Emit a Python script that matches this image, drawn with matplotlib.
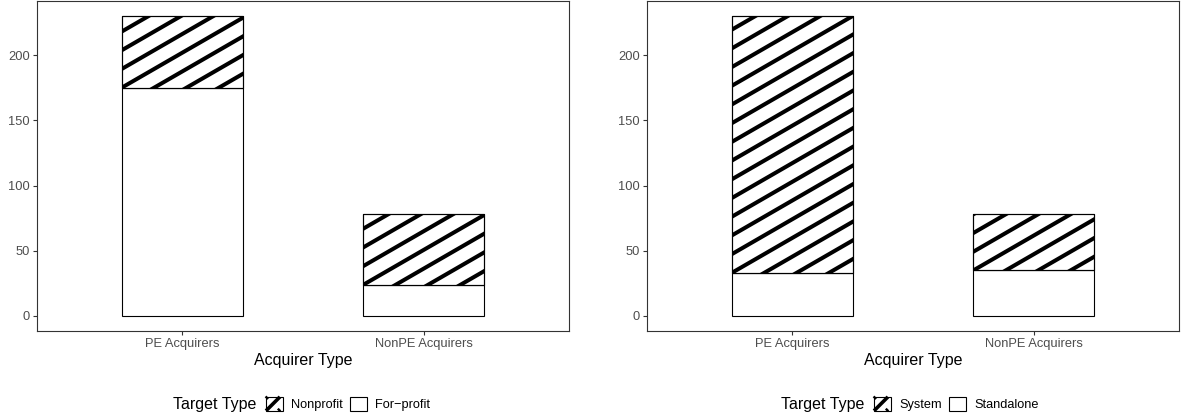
import numpy as np
import matplotlib
matplotlib.use("Agg")
import matplotlib.pyplot as plt
from matplotlib.patches import Patch, Rectangle
from matplotlib.lines import Line2D
from matplotlib.transforms import IdentityTransform
from matplotlib.legend_handler import HandlerPatch

plt.rcParams['font.family'] = ['Liberation Sans', 'DejaVu Sans']

# data
acquirers = ['PE Acquirers', 'NonPE Acquirers']
forprofit = [175, 24]
nonprofit = [55, 54]
standalone = [33, 35]
system = [197, 43]
yticks = [0, 50, 100, 150, 200]

W, H = 1182, 416
fig = plt.figure(figsize=(W / 100, H / 100), dpi=100)

GREY20 = '#333333'
GREY30 = '#4D4D4D'


def stripe(ax, patch, spacing=16.2, angle=30, lw=2.9):
    # diagonal stripes drawn in pixel space and clipped to the bar
    x0, y0 = ax.transData.transform((patch.get_x(), patch.get_y()))
    x1, y1 = ax.transData.transform((patch.get_x() + patch.get_width(),
                                     patch.get_y() + patch.get_height()))
    a = np.deg2rad(angle)
    d = np.array([np.cos(a), np.sin(a)])
    n = np.array([-np.sin(a), np.cos(a)])
    corners = np.array([[x0, y0], [x1, y0], [x0, y1], [x1, y1]])
    proj = (corners - [x0, y0]) @ n
    L = np.hypot(x1 - x0, y1 - y0) + 10
    for c in np.arange(np.floor(proj.min() / spacing) * spacing,
                       proj.max() + spacing, spacing):
        p = np.array([x0, y0]) + c * n
        pts = np.array([p - L * d, p + L * d])
        ln = Line2D(pts[:, 0], pts[:, 1], color='black', lw=lw,
                    transform=IdentityTransform(), solid_capstyle='butt',
                    zorder=2.5)
        ax.add_artist(ln)
        ln.set_clip_path(patch)  # after add_artist, else axes clip wins


class StripedKey(HandlerPatch):
    # legend key: white square with thick diagonal stripes
    def create_artists(self, legend, orig_handle, xdescent, ydescent,
                       width, height, fontsize, trans):
        x0, y0 = -xdescent, -ydescent
        s = min(width, height)
        arts = [Rectangle((x0, y0), width, height, facecolor='white',
                          edgecolor='none', transform=trans)]
        for c in (-0.88 * s, 0.0, 0.88 * s):
            # line y - x = c inside the square
            t0 = max(0.0, -c)
            t1 = min(s, s - c)
            arts.append(Line2D([x0 + t0, x0 + t1], [y0 + t0 + c, y0 + t1 + c],
                               color='black', lw=2.6, solid_capstyle='butt',
                               transform=trans))
        arts.append(Rectangle((x0, y0), width, height, facecolor='none',
                              edgecolor='black', lw=0.8, transform=trans))
        return arts


def panel(left_px, bottom_vals, top_vals, top_label, bottom_label, key_px):
    ax = fig.add_axes([left_px / W, 85 / H, 532 / W, 330 / H])
    x = np.arange(1, len(acquirers) + 1)
    ax.set_xlim(0.4, 2.6)
    ax.set_ylim(-11.5, 241.5)
    ax.bar(x, bottom_vals, width=0.5, color='white', edgecolor='black',
           linewidth=0.8, zorder=2)
    b2 = ax.bar(x, top_vals, bottom=bottom_vals, width=0.5, color='white',
                edgecolor='black', linewidth=0.8, zorder=2)
    for p in b2.patches:
        stripe(ax, p)
    # redraw edges on top of stripes
    ax.bar(x, top_vals, bottom=bottom_vals, width=0.5, color='none',
           edgecolor='black', linewidth=0.8, zorder=3)

    ax.set_xticks(x)
    ax.set_xticklabels(acquirers)
    ax.set_yticks(yticks)
    ax.tick_params(colors=GREY20, labelcolor=GREY30, labelsize=9.3,
                   length=3, width=0.8, pad=2)
    for s in ax.spines.values():
        s.set_color(GREY20)
        s.set_linewidth(0.8)
    ax.set_xlabel('Acquirer Type', fontsize=11.5, labelpad=2.5)

    yc = (H - 404) / H
    fig.text((key_px - 10) / W, yc, 'Target Type', ha='right', va='center',
             fontsize=11.5)
    striped = Patch(facecolor='white', edgecolor='black', lw=0.8)
    plain = Patch(facecolor='white', edgecolor='black', lw=0.8)
    fig.legend([striped, plain], [top_label, bottom_label], loc='center left',
               bbox_to_anchor=(key_px / W, yc), ncol=2, frameon=False,
               fontsize=9.2, handlelength=1.3, handleheight=1.3,
               handletextpad=0.65, columnspacing=0.6, borderpad=0,
               borderaxespad=0, handler_map={striped: StripedKey()})
    return ax


panel(37, forprofit, nonprofit, 'Nonprofit', 'For\u2212profit', 266)
panel(647, standalone, system, 'System', 'Standalone', 874)

fig.savefig('out.png', dpi=100)
